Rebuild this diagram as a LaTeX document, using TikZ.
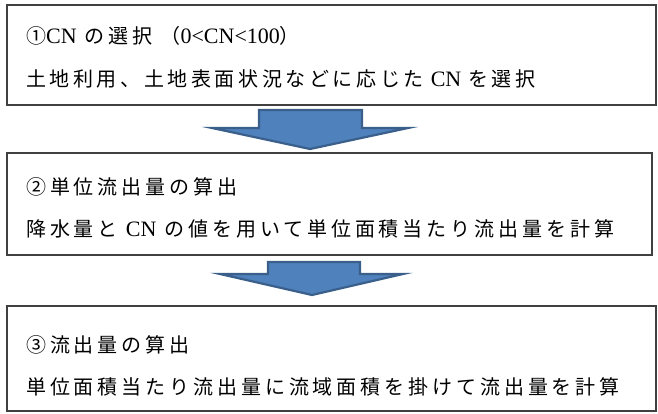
\documentclass[tikz,border=0pt]{standalone}
\usepackage{fontspec}
\setmainfont{Liberation Serif}
\newfontfamily\cjk[LetterSpace=19.5]{Noto Sans CJK JP}
\newfontfamily\cjkb[LetterSpace=18]{Noto Sans CJK JP}
\newcommand{\lat}[1]{{\fontsize{22}{22}\selectfont #1}}
\definecolor{arrowfill}{HTML}{4F81BD}
\definecolor{arrowline}{HTML}{3A5F8B}
\begin{document}
\begin{tikzpicture}[x=1pt,y=-1pt,
  stepbox/.style={draw=black!75, line width=1.3pt, inner sep=0pt},
  txt/.style={anchor=base west, inner sep=0pt, font=\fontsize{20}{20}\selectfont},
  blockarrow/.style={draw=arrowline, fill=arrowfill, line width=2.2pt, line join=miter}]
\useasboundingbox (0,0) rectangle (658,414);
% boxes
\node[stepbox, minimum width=649pt, minimum height=100pt] (b1) at (331.5,55) {};
\node[stepbox, minimum width=645pt, minimum height=102pt] (b2) at (329.5,204) {};
\node[stepbox, minimum width=649pt, minimum height=105pt] (b3) at (331.5,358.5) {};
% arrows
\draw[blockarrow] (259,110) -- (362,110) -- (362,128) -- (408,128) -- (310,149) -- (212,128) -- (259,128) -- cycle;
\draw[blockarrow] (268,262) -- (360,262) -- (360,274) -- (403,274) -- (312,295) -- (220,274) -- (268,274) -- cycle;
% texts
\node[txt] (t1a) at (26,44) {{\cjk ①}\lat{CN}\hspace{8pt}{\cjk の選択}\hspace{8pt}{\cjk （}\lat{0<CN<100}{\cjk ）}};
\node[txt] (t1b) at (26,87) {{\cjkb 土地利用、土地表面状況などに応じた}\hspace{2pt} \lat{CN}\hspace{2pt} {\cjkb を選択}};
\node[txt] (t2a) at (26,194) {{\cjk ②単位流出量の算出}};
\node[txt] (t2b) at (26,236) {{\cjk 降水量と}\hspace{3pt} \lat{CN}\hspace{3pt} {\cjk の値を用いて単位面積当たり流出量を計算}};
\node[txt] (t3a) at (26,352) {{\cjk ③流出量の算出}};
\node[txt] (t3b) at (26,394) {{\cjk 単位面積当たり流出量に流域面積を掛けて流出量を計算}};
\end{tikzpicture}
\end{document}
